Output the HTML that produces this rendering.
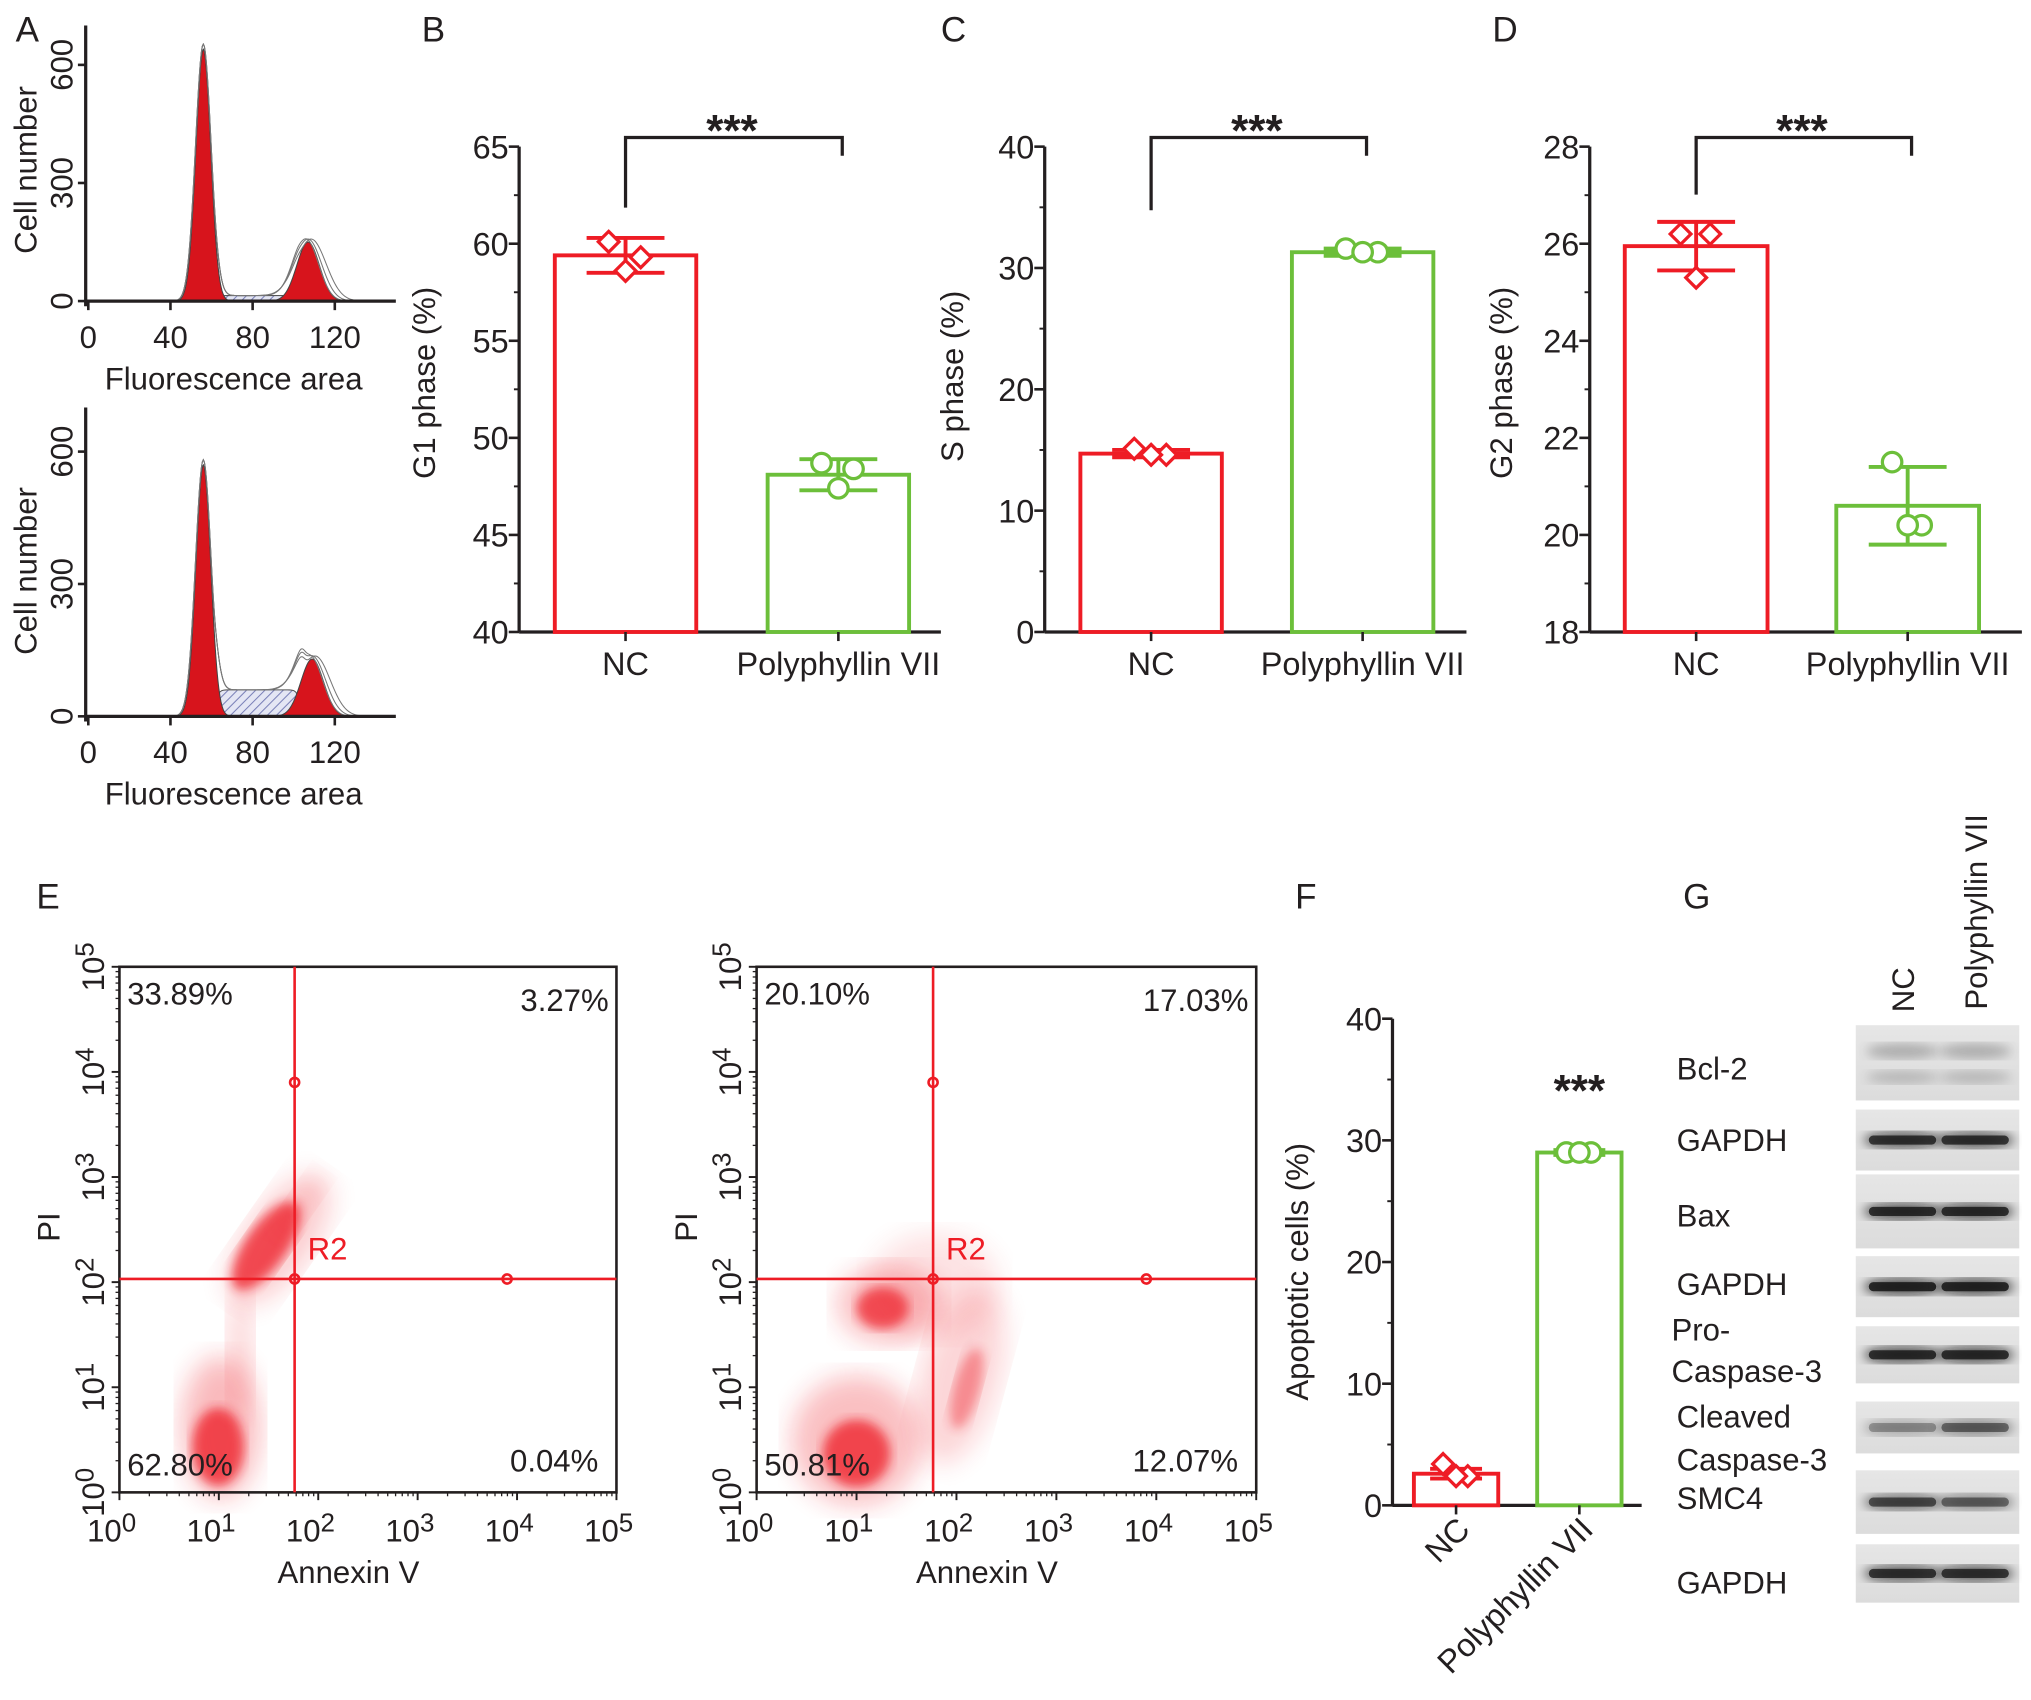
<!DOCTYPE html>
<html><head><meta charset="utf-8">
<style>
html,body{margin:0;padding:0;background:#fff;}
svg{display:block;font-family:"Liberation Sans",sans-serif;}
</style></head>
<body>
<svg id="fig" width="2031" height="1700" viewBox="0 0 1565 1310" xmlns="http://www.w3.org/2000/svg">
<defs>
<pattern id="hatch" width="5" height="5" patternUnits="userSpaceOnUse" patternTransform="rotate(45)">
<rect width="5" height="5" fill="#e4e6f4"/><line x1="0" y1="0" x2="0" y2="5" stroke="#7a80b8" stroke-width="1.6"/></pattern>
<filter id="blur4"><feGaussianBlur stdDeviation="4"/></filter>
<filter id="blur10"><feGaussianBlur stdDeviation="10"/></filter>
<linearGradient id="blotbg" x1="0" x2="0" y1="0" y2="1"><stop offset="0" stop-color="#e6e6e6"/><stop offset="1" stop-color="#dcdcdc"/></linearGradient>
</defs>
<g id="root"></g>
</svg>
<script>
// ---------- data ----------
const categories = ["NC", "Polyphyllin VII"];
const g1Means = [59.4, 48.1];
const g1Sd = [0.9, 0.8];
const g1PointsNC = [60.1, 59.3, 58.6];
const g1PointsPP = [48.7, 48.4, 47.4];
const sMeans = [14.7, 31.3];
const sSd = [0.3, 0.3];
const sPointsNC = [15.1, 14.6, 14.6];
const sPointsPP = [31.6, 31.3, 31.3];
const g2Means = [25.95, 20.6];
const g2Sd = [0.5, 0.8];
const g2PointsNC = [26.2, 26.2, 25.3];
const g2PointsPP = [21.5, 20.2, 20.2];
const apoMeans = [2.6, 29.0];
const apoSd = [0.4, 0.2];
const apoPointsNC = [3.4, 2.4, 2.4];
const apoPointsPP = [29.0, 29.0, 29.0];
const g1Ticks = [40, 45, 50, 55, 60, 65];
const sTicks = [0, 10, 20, 30, 40];
const g2Ticks = [18, 20, 22, 24, 26, 28];
const apoTicks = [0, 10, 20, 30, 40];
// histogram model params: [G1 center, G1 height, G1 sigma, G2 center, G2 height, G2 sigma, S height]
const histTop = [56, 640, 3.6, 107, 150, 5.5, 14];
const histBottom = [56, 570, 3.6, 109, 130, 5.5, 60];
const histXTicks = [0, 40, 80, 120];
const histYTicks = [0, 300, 600];
// flow quadrant percentages [UL, UR, LL, LR]
const flowNC = ["33.89%", "3.27%", "62.80%", "0.04%"];
const flowPP = ["20.10%", "17.03%", "50.81%", "12.07%"];
const blotLabels = ["Bcl-2", "GAPDH", "Bax", "GAPDH", "Pro-|Caspase-3", "Cleaved|Caspase-3", "SMC4", "GAPDH"];

const NS = "http://www.w3.org/2000/svg";
const root = document.getElementById("root");
function el(tag, attrs, parent, text) {
  const e = document.createElementNS(NS, tag);
  for (const k in attrs) e.setAttribute(k, attrs[k]);
  if (text !== undefined) e.textContent = text;
  (parent || root).appendChild(e);
  return e;
}
const RED = "#ee1c25", GREEN = "#6cbf3a", DARK = "#231f20";

[["A",12,32],["B",325,32],["C",725,32],["D",1150,32],["E",28,700],["F",998,700],["G",1297,700]].forEach(l => {
  const t = el("text", {x:l[1], y:l[2], "font-size":27, fill:DARK}, root, l[0]);
  
  
});

// ---------- histograms ----------
function gauss(x, c, h, s) { return h * Math.exp(-0.5 * ((x - c) / s) ** 2); }
function histogram(params, y0, yScale, name) {
  const g = el("g", {});
  
  
  const xs = v => 68 + v * 1.583;
  const ys = v => y0 - v * yScale;
  const [c1, h1, s1, c2, h2, s2, sh] = params;
  let sp = `M${xs(c1)},${ys(0)}`;
  for (let v = c1; v <= c2; v += 1) {
    const f = 1 / (1 + Math.exp(-(v - (c1 + 6)) * 1.2)) * (1 / (1 + Math.exp((v - (c2 - 6)) * 1.2)));
    sp += ` L${xs(v)},${ys(sh * f)}`;
  }
  sp += ` L${xs(c2)},${ys(0)}Z`;
  el("path", {d: sp, fill: "url(#hatch)", stroke: "#555", "stroke-width": 0.8}, g);
  [[c1,h1,s1],[c2,h2,s2]].forEach(p => {
    let d = `M${xs(p[0]-4*p[2])},${ys(0)}`;
    for (let v = p[0]-4*p[2]; v <= p[0]+4*p[2]; v += 0.5) d += ` L${xs(v)},${ys(gauss(v,p[0],p[1],p[2]))}`;
    d += ` L${xs(p[0]+4*p[2])},${ys(0)}Z`;
    const pk = el("path", {d, fill: "#d7141c", stroke: "#444", "stroke-width": 0.8}, g);
    
    
  });
  [0, 1.5, -1].forEach(off => {
    let d = "";
    for (let v = 40; v <= 132; v += 0.5) {
      const f = 1 / (1 + Math.exp(-(v - (c1 + 6)) * 1.2)) * (1 / (1 + Math.exp((v - (c2 - 4)) * 1.0)));
      const val = gauss(v,c1,h1*1.02,s1+0.2) + gauss(v,c2+off,h2*1.05,s2+1+off*0.5) + sh*f;
      d += (d ? " L" : "M") + xs(v) + "," + ys(val);
    }
    el("path", {d, fill: "none", stroke: "#777", "stroke-width": 0.8}, g);
  });
  el("line", {x1: 66, y1: ys(0), x2: 305, y2: ys(0), stroke: DARK, "stroke-width": 2.5}, g);
  el("line", {x1: 66, y1: ys(0)+4, x2: 66, y2: ys(700), stroke: DARK, "stroke-width": 2.5}, g);
  histXTicks.forEach(v => {
    el("line", {x1: xs(v), y1: ys(0), x2: xs(v), y2: ys(0)+7, stroke: DARK, "stroke-width": 2}, g);
    el("text", {x: xs(v), y: ys(0)+36, "font-size": 24, "text-anchor": "middle", fill: DARK}, g, v);
  });
  histYTicks.forEach(v => {
    el("line", {x1: 60, y1: ys(v), x2: 66, y2: ys(v), stroke: DARK, "stroke-width": 2}, g);
    el("text", {x: 0, y: 0, "font-size": 24, "text-anchor": "middle", fill: DARK, transform: `translate(56,${ys(v)}) rotate(-90)`}, g, v);
  });
  const yt = el("text", {"font-size": 24, "text-anchor": "middle", fill: DARK, transform: `translate(28,${ys(300)-10}) rotate(-90)`}, g, "Cell number");
  
  
  const xt = el("text", {x: 180, y: ys(0)+68, "font-size": 24, "text-anchor": "middle", fill: DARK}, g, "Fluorescence area");
  
  
}
histogram(histTop, 232, (232-50)/600, "histogram-nc");
histogram(histBottom, 552, (552-348)/600, "histogram-polyphyllin");

// ---------- bar panels ----------
function barPanel(o) {
  const g = el("g", {});
  
  
  const ys = v => o.yb - (v - o.min) / (o.max - o.min) * (o.yb - o.yt);
  el("line", {x1: o.ax, y1: o.yt, x2: o.ax, y2: o.yb, stroke: DARK, "stroke-width": 2.5}, g);
  el("line", {x1: o.ax, y1: o.yb, x2: o.xe, y2: o.yb, stroke: DARK, "stroke-width": 2.5}, g);
  const step = o.ticks[1] - o.ticks[0];
  o.ticks.forEach((v, i) => {
    el("line", {x1: o.ax - 8, y1: ys(v), x2: o.ax, y2: ys(v), stroke: DARK, "stroke-width": 2}, g);
    if (i < o.ticks.length - 1) el("line", {x1: o.ax - 4, y1: ys(v + step/2), x2: o.ax, y2: ys(v + step/2), stroke: DARK, "stroke-width": 1.5}, g);
    const t = el("text", {x: o.ax - 8, y: ys(v) + 9, "font-size": 25, "text-anchor": "end", fill: DARK}, g, v);
    
    
  });
  const yt = el("text", {"font-size": 24, "text-anchor": "middle", fill: DARK, transform: `translate(${o.ylx},${o.yly}) rotate(-90)`}, g, o.ylabel);
  
  
  const cols = [RED, GREEN];
  const pts = [o.ptsNC, o.ptsPP];
  o.means.forEach((m, i) => {
    const cx = o.cx[i], w = o.bw;
    const b = el("rect", {x: cx - w/2, y: ys(m), width: w, height: o.yb - ys(m), fill: "none", stroke: cols[i], "stroke-width": 3}, g);
    
    
    el("line", {x1: cx, y1: ys(m + o.sd[i]), x2: cx, y2: ys(m - o.sd[i]), stroke: cols[i], "stroke-width": 3}, g);
    [m + o.sd[i], m - o.sd[i]].forEach(v => el("line", {x1: cx - o.cap, y1: ys(v), x2: cx + o.cap, y2: ys(v), stroke: cols[i], "stroke-width": 3}, g));
    const offs = [-o.po, o.po * 0.9, 0];
    pts[i].forEach((v, k) => {
      const px = cx + (k === 2 ? 0 : offs[k]), py = ys(v);
      let mk;
      if (i === 0) mk = el("path", {d: `M${px},${py-8} L${px+8},${py} L${px},${py+8} L${px-8},${py}Z`, fill: "#fff", stroke: RED, "stroke-width": 2.5}, g);
      else mk = el("circle", {cx: px, cy: py, r: 7.5, fill: "#fff", stroke: GREEN, "stroke-width": 2.5}, g);
      
      
    });
    el("line", {x1: cx, y1: o.yb, x2: cx, y2: o.yb + 7, stroke: DARK, "stroke-width": 2}, g);
    let t;
    if (!o.rotated) {
      t = el("text", {x: cx, y: o.yb + 33, "font-size": 25, "text-anchor": "middle", fill: DARK}, g, categories[i]);
    } else {
      t = el("text", {"font-size": 25, "text-anchor": "end", fill: DARK, transform: `translate(${cx + 12},${o.yb + 20}) rotate(-45)`}, g, categories[i]);
    }
    
    
  });
  if (o.bracket) {
    const yb = 106;
    const br = el("path", {d: `M${o.cx[0]},${o.bl} L${o.cx[0]},${yb} L${o.cx[1]+3},${yb} L${o.cx[1]+3},${yb+14}`, fill: "none", stroke: DARK, "stroke-width": 2.5}, g);
    
    
    el("text", {x: (o.cx[0] + o.cx[1]) / 2, y: 112, "font-size": 34, "font-weight": "bold", "text-anchor": "middle", fill: DARK}, g, "***");
  } else {
    el("text", {x: o.cx[1], y: 852, "font-size": 34, "font-weight": "bold", "text-anchor": "middle", fill: DARK}, g, "***");
  }
}
barPanel({name:"g1-phase-chart", ax:400, yt:113, yb:487, xe:725, min:40, max:65, ticks:g1Ticks, means:g1Means, sd:g1Sd, ptsNC:g1PointsNC, ptsPP:g1PointsPP, cx:[482,646], bw:109, cap:30, po:13, ylabel:"G1 phase (%)", ylx:335, yly:295, bracket:true, bl:160});
barPanel({name:"s-phase-chart", ax:805, yt:113, yb:487, xe:1130, min:0, max:40, ticks:sTicks, means:sMeans, sd:sSd, ptsNC:sPointsNC, ptsPP:sPointsPP, cx:[887,1050], bw:109, cap:30, po:13, ylabel:"S phase (%)", ylx:742, yly:290, bracket:true, bl:162});
barPanel({name:"g2-phase-chart", ax:1225, yt:113, yb:487, xe:1558, min:18, max:28, ticks:g2Ticks, means:g2Means, sd:g2Sd, ptsNC:g2PointsNC, ptsPP:g2PointsPP, cx:[1307,1470], bw:110, cap:30, po:12, ylabel:"G2 phase (%)", ylx:1165, yly:295, bracket:true, bl:150});
barPanel({name:"apoptosis-chart", ax:1073, yt:785, yb:1160, xe:1265, min:0, max:40, ticks:apoTicks, means:apoMeans, sd:apoSd, ptsNC:apoPointsNC, ptsPP:apoPointsPP, cx:[1122,1217], bw:65, cap:20, po:10, ylabel:"Apoptotic  cells (%)", ylx:1008, yly:980, bracket:false, rotated:true});

// ---------- flow plots ----------
function flow(x0, x1, gx, labels, clusters, name) {
  const y0 = 745, y1 = 1150;
  const g = el("g", {});
  
  
  clusters.forEach(c => {
    el("ellipse", {cx: c[0], cy: c[1], rx: c[2], ry: c[3], fill: RED, opacity: c[4], filter: c[5] ? "url(#blur10)" : "url(#blur4)", transform: `rotate(${c[6]||0} ${c[0]} ${c[1]})`}, g);
  });
  el("rect", {x: x0, y: y0, width: x1 - x0, height: y1 - y0, fill: "none", stroke: DARK, "stroke-width": 2}, g);
  const dx = (x1 - x0) / 5, dy = (y1 - y0) / 5;
  for (let d = 0; d <= 5; d++) {
    el("line", {x1: x0 + d*dx, y1: y1, x2: x0 + d*dx, y2: y1 + 6, stroke: DARK, "stroke-width": 1.5}, g);
    el("line", {x1: x0 - 6, y1: y1 - d*dy, x2: x0, y2: y1 - d*dy, stroke: DARK, "stroke-width": 1.5}, g);
    for (let m = 2; m < 10 && d < 5; m++) {
      const f = Math.log10(m);
      el("line", {x1: x0 + (d+f)*dx, y1: y1, x2: x0 + (d+f)*dx, y2: y1 + 3, stroke: DARK, "stroke-width": 1}, g);
      el("line", {x1: x0 - 3, y1: y1 - (d+f)*dy, x2: x0, y2: y1 - (d+f)*dy, stroke: DARK, "stroke-width": 1}, g);
    }
    const tx = el("text", {x: x0 + d*dx - 6, y: y1 + 38, "font-size": 24, "text-anchor": "middle", fill: DARK}, g);
    el("tspan", {}, tx, "10");
    el("tspan", {dy: -8, "font-size": 20}, tx, String(d));
    const ty = el("text", {"font-size": 24, "text-anchor": "middle", fill: DARK, transform: `translate(${x0 - 12},${y1 - d*dy}) rotate(-90)`}, g);
    el("tspan", {}, ty, "10");
    el("tspan", {dy: -8, "font-size": 20}, ty, String(d));
    
    
  }
  const hy = y1 - 2*dy - 0.03*dy;
  el("line", {x1: gx, y1: y0, x2: gx, y2: y1, stroke: RED, "stroke-width": 2}, g);
  el("line", {x1: x0, y1: hy, x2: x1, y2: hy, stroke: RED, "stroke-width": 2}, g);
  [[gx, y1 - 4*dy + 0.1*dy], [gx, hy], [x0 + 3.9*dx, hy]].forEach(p => el("circle", {cx: p[0], cy: p[1], r: 3.5, fill: "none", stroke: RED, "stroke-width": 2}, g));
  el("text", {x: gx + 10, y: hy - 15, "font-size": 24, fill: RED}, g, "R2");
  el("text", {x: x0 + 6, y: 774, "font-size": 24, fill: DARK}, g, labels[0]);
  el("text", {x: x1 - 6, y: 779, "font-size": 24, fill: DARK, "text-anchor": "end"}, g, labels[1]);
  el("text", {x: x0 + 6, y: 1137, "font-size": 24, fill: DARK}, g, labels[2]);
  el("text", {x: x1 - 14, y: 1134, "font-size": 24, fill: DARK, "text-anchor": "end"}, g, labels[3]);
  const pi = el("text", {"font-size": 24, "text-anchor": "middle", fill: DARK, transform: `translate(${x0 - 46},${hy - 40}) rotate(-90)`}, g, "PI");
  
  
  const ax = el("text", {x: (x0 + x1) / 2 - 15, y: 1220, "font-size": 24, "text-anchor": "middle", fill: DARK}, g, "Annexin V");
  
  
}
flow(92, 475, 227, flowNC, [
  [170, 1100, 30, 55, 0.3, 1], [168, 1115, 20, 30, 0.75, 0], [185, 1040, 10, 50, 0.18, 1],
  [205, 960, 16, 40, 0.75, 0, 35], [215, 955, 26, 58, 0.22, 1, 35], [230, 930, 10, 30, 0.12, 1, 35]
], "flow-plot-nc");
flow(583, 968, 719, flowPP, [
  [660, 1110, 50, 50, 0.28, 1], [660, 1120, 26, 26, 0.75, 0], [685, 1005, 40, 30, 0.28, 1],
  [680, 1008, 20, 16, 0.7, 0], [740, 1060, 30, 70, 0.18, 1, 15], [745, 1070, 10, 32, 0.4, 0, 15],
  [720, 990, 50, 40, 0.12, 1]
], "flow-plot-polyphyllin");

// ---------- western blot ----------
const blotRows = [[790, 58, 0.3], [855, 47, 0.85], [905, 57, 0.9], [968, 47, 0.95], [1022, 44, 0.9], [1080, 40, 0.35], [1133, 49, 0.7], [1190, 45, 0.85]];
const labY = [[832], [887], [945], [998], [1033, 1065], [1100, 1133], [1163], [1228]];
blotRows.forEach((r, i) => {
  const g = el("g", {});
  
  
  el("rect", {x: 1430, y: r[0], width: 126, height: r[1], fill: "url(#blotbg)"}, g);
  [1466, 1522].forEach((cx, k) => {
    const op = Math.min(r[2] * (i === 5 && k === 1 ? 1.6 : 1) * (i === 6 && k === 1 ? 0.8 : 1), 1);
    if (i === 0) {
      el("ellipse", {cx, cy: r[0] + 20, rx: 28, ry: 6, fill: "#333", opacity: op, filter: "url(#blur4)"}, g);
      el("ellipse", {cx, cy: r[0] + 40, rx: 28, ry: 5, fill: "#333", opacity: op * 0.8, filter: "url(#blur4)"}, g);
    } else {
      el("ellipse", {cx, cy: r[0] + r[1] / 2, rx: 30, ry: 6, fill: "#111", opacity: op * 0.8, filter: "url(#blur4)"}, g);
      el("rect", {x: cx - 26, y: r[0] + r[1] / 2 - 3.5, width: 52, height: 7, rx: 3.5, fill: "#151515", opacity: op * 0.9}, g);
    }
  });
  const parts = blotLabels[i].split("|");
  parts.forEach((p, k) => {
    const t = el("text", {x: i === 4 ? 1288 : 1292, y: labY[i][k], "font-size": 24, fill: DARK}, g, p);
    
    
  });
});
const ln1 = el("text", {"font-size": 24, fill: DARK, transform: "translate(1475,780) rotate(-90)"}, root, "NC");


const ln2 = el("text", {"font-size": 24, fill: DARK, transform: "translate(1531,778) rotate(-90)"}, root, "Polyphyllin VII");


</script>
</body></html>
